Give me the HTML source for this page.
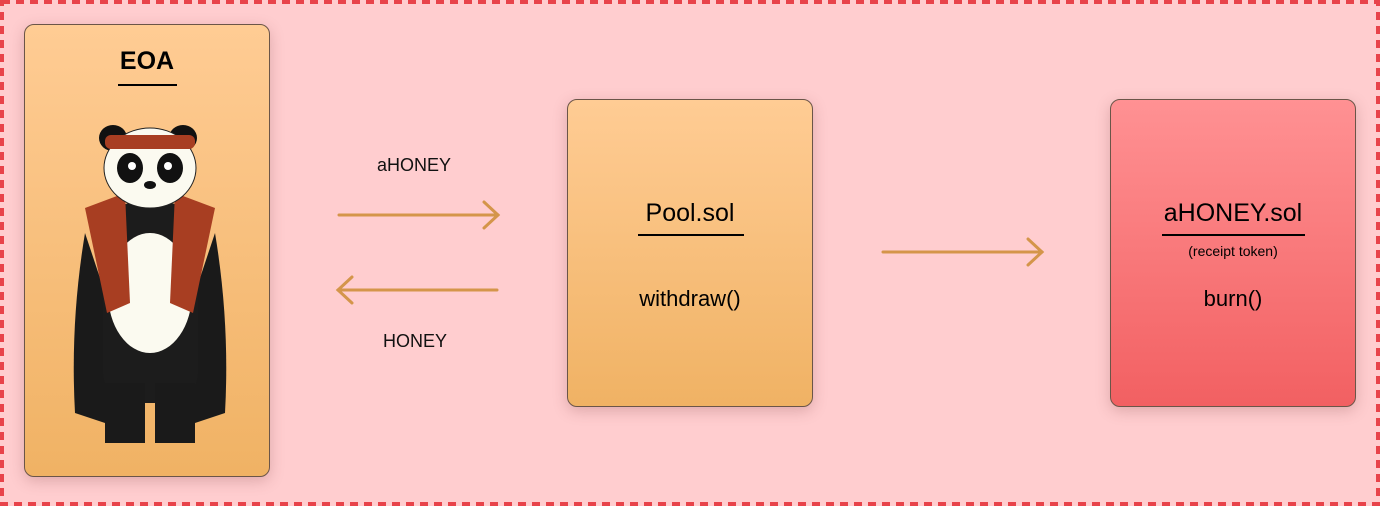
<!DOCTYPE html>
<html><head><style>
body{margin:0;width:1380px;height:506px;overflow:hidden;background:#fff;font-family:"Liberation Sans",sans-serif}
.frame{position:absolute;left:0;top:0;width:1380px;height:506px;background:#ffcdcf;box-sizing:border-box}
.box{position:absolute;border:1px solid #6b5548;border-radius:10px;box-sizing:border-box;box-shadow:0 4px 14px rgba(120,60,60,.25);text-align:center}
.t{position:absolute;left:0;right:0;font-size:25px;color:#000}
.u{position:absolute;height:1.5px;background:#000}
.lbl{position:absolute;font-size:18px;color:#111}
</style></head><body>
<div class="frame"></div>
<svg style="position:absolute;left:0;top:0" width="1380" height="506">
<rect x="2" y="2" width="1376" height="502" fill="none" stroke="#e8434a" stroke-width="4" stroke-dasharray="8 6"/>
<g stroke="#d4954a" stroke-width="3" fill="none" stroke-linecap="round">
<line x1="339" y1="215" x2="498" y2="215"/><polyline points="484,202 498,215 484,228"/>
<line x1="338" y1="290" x2="497" y2="290"/><polyline points="352,277 338,290 352,303"/>
<line x1="883" y1="252" x2="1042" y2="252"/><polyline points="1028,239 1042,252 1028,265"/>
</g></svg>
<div class="box" style="left:24px;top:24px;width:246px;height:453px;background:linear-gradient(#ffcc94,#f0b264)">
<div class="t" style="top:22px;font-weight:bold">EOA</div>
<div class="u" style="left:93px;top:59px;width:59px"></div>
<svg style="position:absolute;left:40px;top:98px" width="170" height="325" viewBox="0 0 170 325">
<ellipse cx="48" cy="15" rx="14" ry="13" fill="#111"/><ellipse cx="118" cy="15" rx="14" ry="13" fill="#111"/>
<path d="M20 110 Q5 200 10 290 L40 300 L50 200 Z" fill="#1a1a1a"/>
<path d="M150 110 Q165 200 160 290 L130 300 L120 200 Z" fill="#1a1a1a"/>
<rect x="38" y="80" width="95" height="200" rx="30" fill="#1c1c1c"/>
<ellipse cx="85" cy="170" rx="42" ry="60" fill="#fbfaf0"/>
<path d="M20 85 L60 70 L65 180 L42 190 Z" fill="#a83e22"/>
<path d="M150 85 L110 70 L105 180 L128 190 Z" fill="#a83e22"/>
<rect x="40" y="260" width="40" height="60" fill="#1a1a1a"/><rect x="90" y="260" width="40" height="60" fill="#1a1a1a"/>
<ellipse cx="85" cy="45" rx="46" ry="40" fill="#fbfaf0" stroke="#222"/>
<rect x="40" y="12" width="90" height="14" rx="6" fill="#a83e22"/>
<ellipse cx="65" cy="45" rx="13" ry="15" fill="#111"/><ellipse cx="105" cy="45" rx="13" ry="15" fill="#111"/>
<circle cx="67" cy="43" r="4" fill="#fff"/><circle cx="103" cy="43" r="4" fill="#fff"/>
<ellipse cx="85" cy="62" rx="6" ry="4" fill="#111"/>
</svg>
</div>
<div class="lbl" style="left:377px;top:155px">aHONEY</div>
<div class="lbl" style="left:383px;top:331px">HONEY</div>
<div class="box" style="left:567px;top:99px;width:246px;height:308px;background:linear-gradient(#ffcc94,#f0b264)">
<div class="t" style="top:99px">Pool.sol</div>
<div class="u" style="left:70px;top:134px;width:106px"></div>
<div class="t" style="top:186px;font-size:22px">withdraw()</div>
</div>
<div class="box" style="left:1110px;top:99px;width:246px;height:308px;background:linear-gradient(#ff9193,#f26062)">
<div class="t" style="top:99px">aHONEY.sol</div>
<div class="u" style="left:51px;top:134px;width:143px"></div>
<div class="t" style="top:143px;font-size:14px">(receipt token)</div>
<div class="t" style="top:186px;font-size:22px">burn()</div>
</div>
</body></html>
